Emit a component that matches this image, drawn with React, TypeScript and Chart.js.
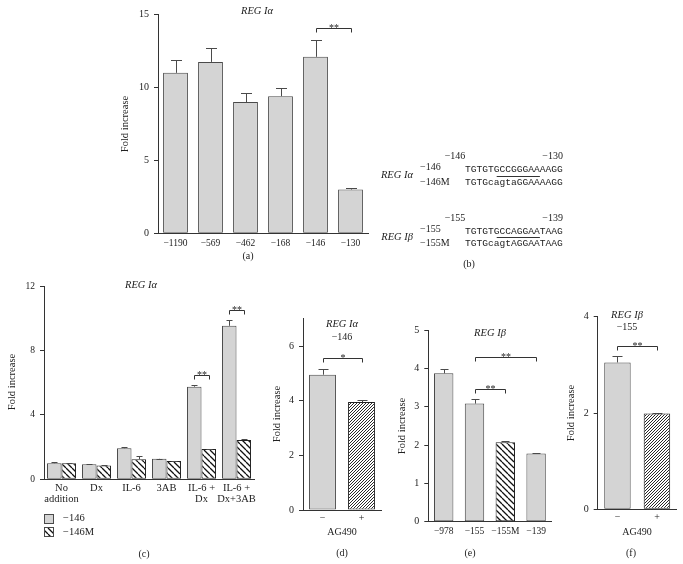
import React, { useEffect, useRef } from 'react';
import { Chart, registerables } from 'chart.js';
Chart.register(...registerables);

const FONT = "'Liberation Serif', 'Times New Roman', serif";
const MONO = "'Liberation Mono', 'Courier New', monospace";
const GRAY = '#d4d4d4';
const EDGE = '#4a4a4a';
const INK = '#222222';

// ---------- (a) REG Iα deletion constructs ----------
const aLabels = ['−1190', '−569', '−462', '−168', '−146', '−130'];
const aValues = [11.0, 11.75, 9.0, 9.4, 12.1, 3.0];
const aErrors = [0.85, 0.95, 0.62, 0.53, 1.18, 0.08];

// ---------- (b) sequences ----------
const bGenes = ['REG Iα', 'REG Iβ'];
const bStart = ['−146', '−155'];
const bEnd = ['−130', '−139'];
const bWildName = ['−146', '−155'];
const bMutName = ['−146M', '−155M'];
const bWildSeq = ['TGTGTGCCGGGAAAAGG', 'TGTGTGCCAGGAATAAG'];
const bMutSeq = ['TGTGcagtaGGAAAAGG', 'TGTGcagtAGGAATAAG'];

// ---------- (c) treatments ----------
const cLabels: (string | string[])[] = [['No', 'addition'], 'Dx', 'IL-6', '3AB', ['IL-6 +', 'Dx'], ['IL-6 +', 'Dx+3AB']];
const cSeries = ['−146', '−146M'];
const cWild = [1.0, 0.93, 1.93, 1.27, 5.75, 9.53];
const cWildErr = [0.07, 0.05, 0.08, 0.02, 0.1, 0.35];
const cMut = [1.0, 0.85, 1.25, 1.13, 1.88, 2.44];
const cMutErr = [0.03, 0.05, 0.17, 0.03, 0.03, 0.06];

// ---------- (d) AG490, REG Iα −146 ----------
const dLabels = ['−', '+'];
const dValues = [4.95, 3.95];
const dErrors = [0.2, 0.07];

// ---------- (e) REG Iβ constructs ----------
const eLabels = ['−978', '−155', '−155M', '−139'];
const eValues = [3.87, 3.08, 2.07, 1.78];
const eErrors = [0.1, 0.13, 0.04, 0.02];
const eHatched = [false, false, true, false];

// ---------- (f) AG490, REG Iβ −155 ----------
const fLabels = ['−', '+'];
const fValues = [3.05, 1.99];
const fErrors = [0.14, 0.02];

function hatch(s: number, dir: 'back' | 'fwd', lw: number) {
  const c = document.createElement('canvas');
  c.width = s; c.height = s;
  const g = c.getContext('2d')!;
  g.fillStyle = '#ffffff';
  g.fillRect(0, 0, s, s);
  g.strokeStyle = '#111111';
  g.lineWidth = lw;
  g.beginPath();
  for (let k = -1; k <= 1; k++) {
    if (dir === 'back') { g.moveTo(k * s, 0); g.lineTo(k * s + s, s); }
    else { g.moveTo(k * s, s); g.lineTo(k * s + s, 0); }
  }
  g.stroke();
  const ctx = document.createElement('canvas').getContext('2d')!;
  return ctx.createPattern(c, 'repeat')!;
}

type Txt = { t: string; x: number; y: number; size: number; italic?: boolean; rot?: boolean; align?: CanvasTextAlign };
type Bracket = { a: [number, number]; b: [number, number]; at: number; label: string };
type Spec = {
  key: string;
  box: { x: number; y: number; w: number; h: number };
  area: { left: number; right: number; top: number; bottom: number };
  labels: (string | string[])[];
  datasets: any[];
  errors: number[][];
  yMax: number; yStep: number; includeBounds?: boolean;
  cap: number;
  xPad: number; xFont: number; yFont: number;
  texts: Txt[];
  brackets: Bracket[];
  swatches?: { x: number; y: number; s: number; fill: any }[];
};

function makePlugin(s: Spec) {
  return {
    id: 'annot_' + s.key,
    afterDatasetsDraw(chart: any) {
      const ctx: CanvasRenderingContext2D = chart.ctx;
      const y = chart.scales.y;
      const ox = s.box.x, oy = s.box.y;
      ctx.save();
      ctx.lineWidth = 1;
      ctx.strokeStyle = EDGE;
      s.errors.forEach((errs, di) => {
        const meta = chart.getDatasetMeta(di);
        const vals = chart.data.datasets[di].data;
        meta.data.forEach((el: any, i: number) => {
          const e = errs[i];
          if (!e) return;
          const x = Math.round(el.x) + 0.5;
          const y0 = y.getPixelForValue(vals[i]);
          const y1 = Math.round(y.getPixelForValue(vals[i] + e)) + 0.5;
          ctx.beginPath();
          ctx.moveTo(x, y0); ctx.lineTo(x, y1);
          ctx.moveTo(x - s.cap / 2, y1); ctx.lineTo(x + s.cap / 2, y1);
          ctx.stroke();
        });
      });
      ctx.strokeStyle = '#333333';
      s.brackets.forEach((b) => {
        const x1 = Math.round(chart.getDatasetMeta(b.a[0]).data[b.a[1]].x) + 0.5;
        const x2 = Math.round(chart.getDatasetMeta(b.b[0]).data[b.b[1]].x) + 0.5;
        const yy = Math.round(y.getPixelForValue(b.at)) + 0.5;
        ctx.beginPath();
        ctx.moveTo(x1, yy + 4); ctx.lineTo(x1, yy); ctx.lineTo(x2, yy); ctx.lineTo(x2, yy + 4);
        ctx.stroke();
        ctx.font = `10px ${FONT}`;
        ctx.textAlign = 'center';
        ctx.textBaseline = 'alphabetic';
        ctx.fillStyle = INK;
        ctx.fillText(b.label, (x1 + x2) / 2, yy + 2);
      });
      (s.swatches || []).forEach((w) => {
        ctx.fillStyle = w.fill;
        ctx.fillRect(w.x - ox, w.y - oy, w.s, w.s);
        ctx.strokeStyle = EDGE;
        ctx.strokeRect(w.x - ox + 0.5, w.y - oy + 0.5, w.s, w.s);
      });
      s.texts.forEach((t) => {
        ctx.save();
        ctx.font = `${t.italic ? 'italic ' : ''}${t.size}px ${FONT}`;
        ctx.fillStyle = INK;
        ctx.textAlign = t.align || 'center';
        ctx.textBaseline = 'middle';
        ctx.translate(t.x - ox, t.y - oy);
        if (t.rot) ctx.rotate(-Math.PI / 2);
        ctx.fillText(t.t, 0, 0);
        ctx.restore();
      });
      ctx.restore();
    },
  };
}

function buildConfig(s: Spec): any {
  const YW = 30, XH = 36;
  const padding = {
    left: s.area.left - s.box.x - YW,
    right: s.box.x + s.box.w - s.area.right,
    top: s.area.top - s.box.y,
    bottom: s.box.y + s.box.h - s.area.bottom - XH,
  };
  return {
    type: 'bar',
    data: { labels: s.labels, datasets: s.datasets },
    plugins: [makePlugin(s)],
    options: {
      animation: false,
      responsive: false,
      maintainAspectRatio: false,
      layout: { padding },
      plugins: { legend: { display: false }, tooltip: { enabled: false }, title: { display: false } },
      scales: {
        x: {
          grid: { display: false, drawTicks: false, tickLength: 0 },
          border: { display: true, color: '#333333', width: 1 },
          ticks: { color: INK, font: { family: FONT, size: s.xFont, lineHeight: 1.05 }, padding: s.xPad, maxRotation: 0, minRotation: 0, autoSkip: false },
          afterFit: (sc: any) => { sc.height = XH; },
        },
        y: {
          min: 0,
          max: s.yMax,
          grid: { display: true, drawOnChartArea: false, drawTicks: true, tickLength: 4, color: '#333333' },
          border: { display: true, color: '#333333', width: 1 },
          ticks: { stepSize: s.yStep, includeBounds: s.includeBounds !== false, color: INK, font: { family: FONT, size: s.yFont }, padding: 5 },
          afterFit: (sc: any) => { sc.width = YW; },
        },
      },
    },
  };
}

function Panel({ make }: { make: () => Spec }) {
  const ref = useRef<HTMLCanvasElement>(null);
  const specRef = useRef<Spec | null>(null);
  if (!specRef.current) specRef.current = make();
  const s = specRef.current;
  useEffect(() => {
    const chart = new Chart(ref.current!, buildConfig(s));
    return () => chart.destroy();
  }, []);
  return (
    <canvas
      ref={ref}
      width={s.box.w}
      height={s.box.h}
      style={{ position: 'absolute', left: s.box.x, top: s.box.y, width: s.box.w, height: s.box.h }}
    />
  );
}

const barBase = { borderColor: EDGE, borderWidth: 1, borderSkipped: false };

function specA(): Spec {
  return {
    key: 'a',
    box: { x: 90, y: 0, w: 290, h: 272 },
    area: { left: 158, right: 368, top: 14.5, bottom: 233.3 },
    labels: aLabels,
    datasets: [{ ...barBase, data: aValues, backgroundColor: GRAY, categoryPercentage: 0.71, barPercentage: 1 }],
    errors: [aErrors],
    yMax: 15, yStep: 5, cap: 11,
    xPad: 5, xFont: 9.5, yFont: 10,
    texts: [
      { t: 'REG Iα', x: 257, y: 11, size: 10.5, italic: true },
      { t: 'Fold increase', x: 125, y: 124, size: 10.5, rot: true },
      { t: '(a)', x: 248, y: 256, size: 10 },
    ],
    brackets: [{ a: [0, 4], b: [0, 5], at: 14.1, label: '**' }],
  };
}

function specC(): Spec {
  const wide = hatch(6, 'back', 1.3);
  return {
    key: 'c',
    box: { x: 0, y: 270, w: 272, h: 294 },
    area: { left: 44, right: 254, top: 286, bottom: 479.3 },
    labels: cLabels,
    datasets: [
      { ...barBase, label: cSeries[0], data: cWild, backgroundColor: GRAY, categoryPercentage: 0.83, barPercentage: 1 },
      { ...barBase, label: cSeries[1], data: cMut, backgroundColor: wide, borderColor: '#222222', categoryPercentage: 0.83, barPercentage: 1 },
    ],
    errors: [cWildErr, cMutErr],
    yMax: 12, yStep: 4, cap: 6,
    xPad: 3, xFont: 10.5, yFont: 9.5,
    texts: [
      { t: 'REG Iα', x: 141, y: 285, size: 10.5, italic: true },
      { t: 'Fold increase', x: 12, y: 382, size: 10.5, rot: true },
      { t: cSeries[0], x: 63, y: 518, size: 10.5, align: 'left' },
      { t: cSeries[1], x: 63, y: 532, size: 10.5, align: 'left' },
      { t: '(c)', x: 144, y: 554, size: 10 },
    ],
    brackets: [
      { a: [0, 4], b: [1, 4], at: 6.5, label: '**' },
      { a: [0, 5], b: [1, 5], at: 10.5, label: '**' },
    ],
    swatches: [
      { x: 44, y: 514, s: 9, fill: GRAY },
      { x: 44, y: 527, s: 9, fill: wide },
    ],
  };
}

function specD(): Spec {
  const dense = hatch(3, 'fwd', 0.9);
  return {
    key: 'd',
    box: { x: 262, y: 300, w: 128, h: 264 },
    area: { left: 303, right: 381, top: 510 - 7 * 27.33, bottom: 510 },
    labels: dLabels,
    datasets: [{ ...barBase, data: dValues, backgroundColor: [GRAY, dense], borderColor: [EDGE, '#222222'], categoryPercentage: 0.69, barPercentage: 1 }],
    errors: [dErrors],
    yMax: 7, yStep: 2, includeBounds: false, cap: 10,
    xPad: 3, xFont: 10, yFont: 10,
    texts: [
      { t: 'REG Iα', x: 342, y: 324, size: 10.5, italic: true },
      { t: '−146', x: 342, y: 337, size: 10 },
      { t: 'Fold increase', x: 277, y: 414, size: 10.5, rot: true },
      { t: 'AG490', x: 342, y: 532, size: 10 },
      { t: '(d)', x: 342, y: 553, size: 10 },
    ],
    brackets: [{ a: [0, 0], b: [0, 1], at: 5.55, label: '*' }],
  };
}

function specE(): Spec {
  const wide = hatch(6, 'back', 1.3);
  return {
    key: 'e',
    box: { x: 388, y: 300, w: 172, h: 264 },
    area: { left: 428.3, right: 551.5, top: 330, bottom: 521.7 },
    labels: eLabels,
    datasets: [{
      ...barBase, data: eValues,
      backgroundColor: eHatched.map((h) => (h ? wide : GRAY)),
      borderColor: eHatched.map((h) => (h ? '#222222' : EDGE)),
      categoryPercentage: 0.63, barPercentage: 1,
    }],
    errors: [eErrors],
    yMax: 5, yStep: 1, cap: 8,
    xPad: 5, xFont: 9.5, yFont: 10,
    texts: [
      { t: 'REG Iβ', x: 490, y: 333, size: 10.5, italic: true },
      { t: 'Fold increase', x: 402, y: 426, size: 10.5, rot: true },
      { t: '(e)', x: 470, y: 553, size: 10 },
    ],
    brackets: [
      { a: [0, 1], b: [0, 3], at: 4.3, label: '**' },
      { a: [0, 1], b: [0, 2], at: 3.45, label: '**' },
    ],
  };
}

function specF(): Spec {
  const dense = hatch(3, 'fwd', 0.9);
  return {
    key: 'f',
    box: { x: 560, y: 300, w: 123, h: 264 },
    area: { left: 597.7, right: 676.7, top: 316.7, bottom: 509.3 },
    labels: fLabels,
    datasets: [{ ...barBase, data: fValues, backgroundColor: [GRAY, dense], borderColor: [EDGE, '#222222'], categoryPercentage: 0.67, barPercentage: 1 }],
    errors: [fErrors],
    yMax: 4, yStep: 2, cap: 10,
    xPad: 3, xFont: 10, yFont: 10,
    texts: [
      { t: 'REG Iβ', x: 627, y: 315, size: 10.5, italic: true },
      { t: '−155', x: 627, y: 327, size: 10 },
      { t: 'Fold increase', x: 571, y: 413, size: 10.5, rot: true },
      { t: 'AG490', x: 637, y: 532, size: 10 },
      { t: '(f)', x: 631, y: 553, size: 10 },
    ],
    brackets: [{ a: [0, 0], b: [0, 1], at: 3.39, label: '**' }],
  };
}

// Panel (b): sequence alignment drawn as canvas text
function SeqPanel() {
  const ref = useRef<HTMLCanvasElement>(null);
  const box = { x: 370, y: 145, w: 200, h: 130 };
  useEffect(() => {
    const ctx = ref.current!.getContext('2d')!;
    ctx.clearRect(0, 0, box.w, box.h);
    ctx.save();
    ctx.translate(-box.x, -box.y);
    ctx.fillStyle = INK;
    ctx.textBaseline = 'middle';
    const CW = 5.76;
    const seqX = 465;
    const rows = [
      { header: 156, r1: 169, r2: 182 },
      { header: 218, r1: 231, r2: 243 },
    ];
    const put = (t: string, x: number, y: number, font: string, align: CanvasTextAlign) => {
      ctx.font = font;
      ctx.textAlign = align;
      ctx.fillText(t, x, y);
    };
    rows.forEach((r, i) => {
      put(bStart[i], 455, r.header, `10px ${FONT}`, 'center');
      put(bEnd[i], 563, r.header, `10px ${FONT}`, 'right');
      put(bGenes[i], 413, (r.r1 + r.r2) / 2, `italic 10.5px ${FONT}`, 'right');
      put(bWildName[i], 420, r.r1 - 2, `10px ${FONT}`, 'left');
      put(bMutName[i], 420, r.r2, `10px ${FONT}`, 'left');
      put(bWildSeq[i], seqX, r.r1, `9.6px ${MONO}`, 'left');
      put(bMutSeq[i], seqX, r.r2, `9.6px ${MONO}`, 'left');
      ctx.fillStyle = '#333333';
      ctx.fillRect(seqX + 5.5 * CW, Math.round((r.r1 + r.r2) / 2), 7.5 * CW, 1);
      ctx.fillStyle = INK;
    });
    put('(b)', 469, 264, `10px ${FONT}`, 'center');
    ctx.restore();
  }, []);
  return (
    <canvas
      ref={ref}
      width={box.w}
      height={box.h}
      style={{ position: 'absolute', left: box.x, top: box.y, width: box.w, height: box.h }}
    />
  );
}

export default function App() {
  return (
    <div style={{ position: 'absolute', left: 0, top: 0, width: 683, height: 564, background: '#ffffff', overflow: 'hidden' }}>
      <Panel make={specA} />
      <SeqPanel />
      <Panel make={specC} />
      <Panel make={specD} />
      <Panel make={specE} />
      <Panel make={specF} />
    </div>
  );
}
